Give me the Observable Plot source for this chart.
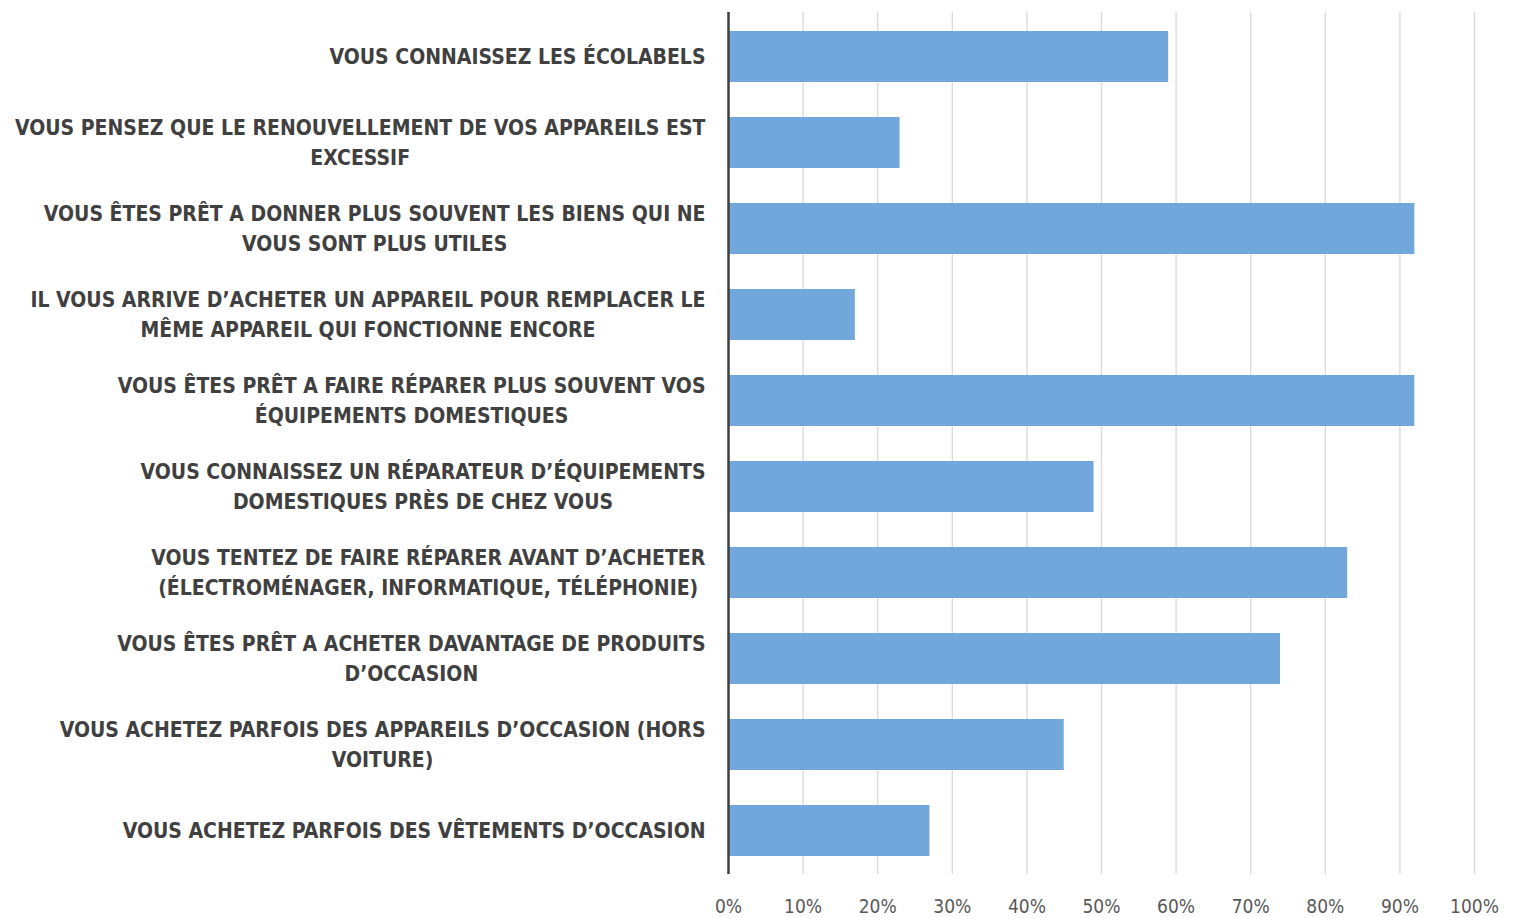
<!DOCTYPE html>
<html><head><meta charset="utf-8">
<script src="https://cdn.jsdelivr.net/npm/d3@7"></script>
<script src="https://cdn.jsdelivr.net/npm/@observablehq/plot@0.6"></script>
<style>body{margin:0;background:#fff}</style>
</head><body><div id="chart"></div>
<script>
const categories = [
  "VOUS CONNAISSEZ LES ÉCOLABELS",
  "VOUS PENSEZ QUE LE RENOUVELLEMENT DE VOS APPAREILS EST\nEXCESSIF",
  "VOUS ÊTES PRÊT A DONNER PLUS SOUVENT LES BIENS QUI NE\nVOUS SONT PLUS UTILES",
  "IL VOUS ARRIVE D’ACHETER UN APPAREIL POUR REMPLACER LE\nMÊME APPAREIL QUI FONCTIONNE ENCORE",
  "VOUS ÊTES PRÊT A FAIRE RÉPARER PLUS SOUVENT VOS\nÉQUIPEMENTS DOMESTIQUES",
  "VOUS CONNAISSEZ UN RÉPARATEUR D’ÉQUIPEMENTS\nDOMESTIQUES PRÈS DE CHEZ VOUS",
  "VOUS TENTEZ DE FAIRE RÉPARER AVANT D’ACHETER\n(ÉLECTROMÉNAGER, INFORMATIQUE, TÉLÉPHONIE)",
  "VOUS ÊTES PRÊT A ACHETER DAVANTAGE DE PRODUITS\nD’OCCASION",
  "VOUS ACHETEZ PARFOIS DES APPAREILS D’OCCASION (HORS\nVOITURE)",
  "VOUS ACHETEZ PARFOIS DES VÊTEMENTS D’OCCASION"
];
const values = [59, 23, 92, 17, 92, 49, 83, 74, 45, 27];
const xTicks = [0, 10, 20, 30, 40, 50, 60, 70, 80, 90, 100];

const data = categories.map((c, i) => ({label: c, value: values[i]}));
const FONT = "'Liberation Sans Narrow', 'DejaVu Sans Condensed', sans-serif";

const plot = Plot.plot({
  width: 1513, height: 918,
  marginLeft: 728, marginRight: 39, marginTop: 12, marginBottom: 44,
  style: {fontFamily: FONT, background: "#fff"},
  x: {domain: [0, 100], label: null},
  y: {domain: categories, paddingInner: 0.41, paddingOuter: 0.2, label: null},
  marks: [
    Plot.gridX(xTicks, {stroke: "#d9d9d9", strokeOpacity: 1, strokeWidth: 1.3}),
    Plot.barX(data, {x: "value", y: "label", fill: "#71a7da"}),
    Plot.ruleX([0], {stroke: "#404040", strokeWidth: 2.5}),
    Plot.axisX(xTicks, {tickSize: 0, tickPadding: 25, fontSize: 19, fill: "#595959", tickFormat: d => d + "%", label: null}),
    Plot.axisY({tickSize: 0, tickPadding: 23, dy: -3, textAnchor: "middle", lineHeight: 1.45, fontSize: 21, fontWeight: "bold", fill: "#404040", label: null})
  ]
});
document.getElementById("chart").appendChild(plot);

// right-align each label block while centring its lines
const g = plot.querySelector('g[aria-label="y-axis tick label"]');
if (g) {
  g.setAttribute("text-anchor", "middle");
  g.querySelectorAll("text").forEach(t => {
    t.setAttribute("text-anchor", "middle");
    const w = t.getBBox().width;
    const spans = t.querySelectorAll("tspan");
    if (spans.length) spans.forEach(s => s.setAttribute("x", -w / 2));
    else t.setAttribute("x", -w / 2);
  });
}
</script>
</body></html>
